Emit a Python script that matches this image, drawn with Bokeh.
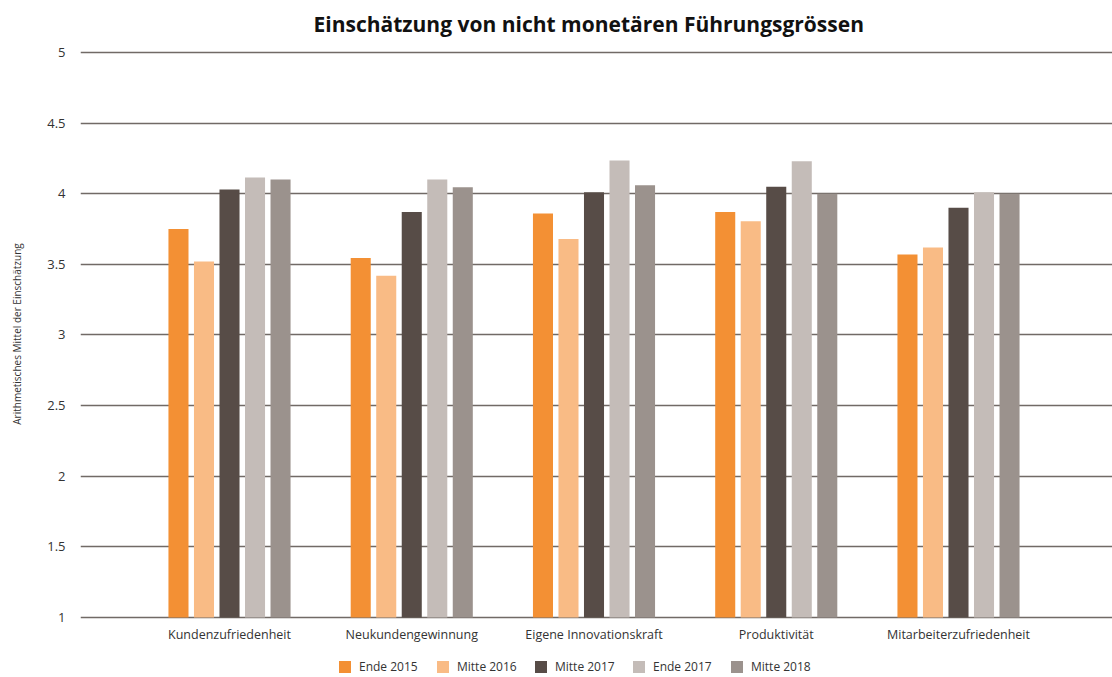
from bokeh.plotting import figure
from bokeh.models import ColumnDataSource, Range1d, FixedTicker, Legend, LegendItem
from bokeh.layouts import column
from bokeh.transform import dodge
from bokeh.embed import file_html
from bokeh.resources import INLINE

categories = ["Kundenzufriedenheit", "Neukundengewinnung", "Eigene Innovationskraft",
              "Produktivität", "Mitarbeiterzufriedenheit"]
series_names = ["Ende 2015", "Mitte 2016", "Mitte 2017", "Ende 2017", "Mitte 2018"]
ende_2015 = [3.75, 3.545, 3.86, 3.87, 3.57]
mitte_2016 = [3.52, 3.42, 3.68, 3.805, 3.62]
mitte_2017 = [4.03, 3.87, 4.01, 4.05, 3.90]
ende_2017 = [4.115, 4.10, 4.235, 4.23, 4.01]
mitte_2018 = [4.10, 4.045, 4.06, 4.00, 4.00]
y_ticks = [1, 1.5, 2, 2.5, 3, 3.5, 4, 4.5, 5]

colors = ["#F39034", "#F9BB85", "#574C47", "#C4BCB8", "#9B928D"]
FONT = "Open Sans"

src = ColumnDataSource(dict(
    x=list(range(len(categories))),
    s0=ende_2015, s1=mitte_2016, s2=mitte_2017, s3=ende_2017, s4=mitte_2018,
))

p = figure(width=1112, height=645, output_backend="svg", toolbar_location=None,
           x_range=Range1d(-0.8176, 4.845), y_range=Range1d(0.986, 5.028),
           min_border_left=80, min_border_right=0, min_border_top=48, min_border_bottom=24)
p.outline_line_color = None
p.background_fill_color = "white"

p.title.text = "Einschätzung von nicht monetären Führungsgrössen"
p.title.align = "left"
p.title.offset = 233
p.title.vertical_align = "top"
p.title.text_font = FONT
p.title.text_font_style = "bold"
p.title.text_font_size = "21px"
p.title.text_color = "#111111"
p.title.standoff = 18

spacing = 0.14
width = 0.11
for i, name in enumerate(series_names):
    p.vbar(x=dodge("x", (i - 2) * spacing, range=p.x_range), top="s%d" % i, bottom=y_ticks[0],
           width=width, source=src, fill_color=colors[i], line_color=None)

# axes
p.yaxis.ticker = FixedTicker(ticks=y_ticks)
p.yaxis.major_label_overrides = {1: "1", 2: "2", 3: "3", 4: "4", 5: "5"}
p.yaxis.axis_line_color = None
p.yaxis.major_tick_line_color = None
p.yaxis.minor_tick_line_color = None
p.yaxis.major_tick_out = 0
p.yaxis.major_tick_in = 0
p.yaxis.major_label_standoff = 15
p.yaxis.major_label_text_font = FONT
p.yaxis.major_label_text_font_size = "13px"
p.yaxis.major_label_text_color = "#333333"
p.yaxis.axis_label = "Arithmetisches Mittel der Einschätzung"
p.yaxis.axis_label_text_font = FONT
p.yaxis.axis_label_text_font_size = "10px"
p.yaxis.axis_label_text_font_style = "normal"
p.yaxis.axis_label_text_color = "#333333"
p.yaxis.axis_label_standoff = 20

p.xaxis.ticker = FixedTicker(ticks=list(range(len(categories))))
p.xaxis.major_label_overrides = {i: c for i, c in enumerate(categories)}
p.xaxis.axis_line_color = None
p.xaxis.major_tick_line_color = None
p.xaxis.minor_tick_line_color = None
p.xaxis.major_tick_out = 0
p.xaxis.major_tick_in = 0
p.xaxis.major_label_standoff = 6
p.xaxis.major_label_text_font = FONT
p.xaxis.major_label_text_font_size = "12.5px"
p.xaxis.major_label_text_color = "#333333"

p.xgrid.grid_line_color = None
p.ygrid.grid_line_color = "#716a66"
p.ygrid.grid_line_width = 1.5
p.ygrid.level = "underlay"

# legend strip (same bars, far outside its visible range; only the legend shows)
lg = figure(width=1112, height=32, output_backend="svg", toolbar_location=None,
            x_range=Range1d(-20, -19), y_range=Range1d(-20, -19),
            x_axis_type=None, y_axis_type=None, min_border=0)
lg.outline_line_color = None
lg.xgrid.visible = False
lg.ygrid.visible = False
items = []
for i, name in enumerate(series_names):
    r = lg.vbar(x="x", top="s%d" % i, bottom=y_ticks[0], width=0.1, source=src,
                fill_color=colors[i], line_color=None)
    items.append(LegendItem(label=name, renderers=[r]))
legend = Legend(items=items, orientation="horizontal", location=(257, 2),
                glyph_width=15, glyph_height=15, label_standoff=7, label_width=76,
                spacing=0, padding=0, margin=0, border_line_color=None,
                label_text_font=FONT, label_text_font_size="12px",
                label_text_color="#333333", background_fill_alpha=0)
lg.add_layout(legend)

layout = column(p, lg, spacing=0)
open("out.html", "w").write(file_html(layout, INLINE))
